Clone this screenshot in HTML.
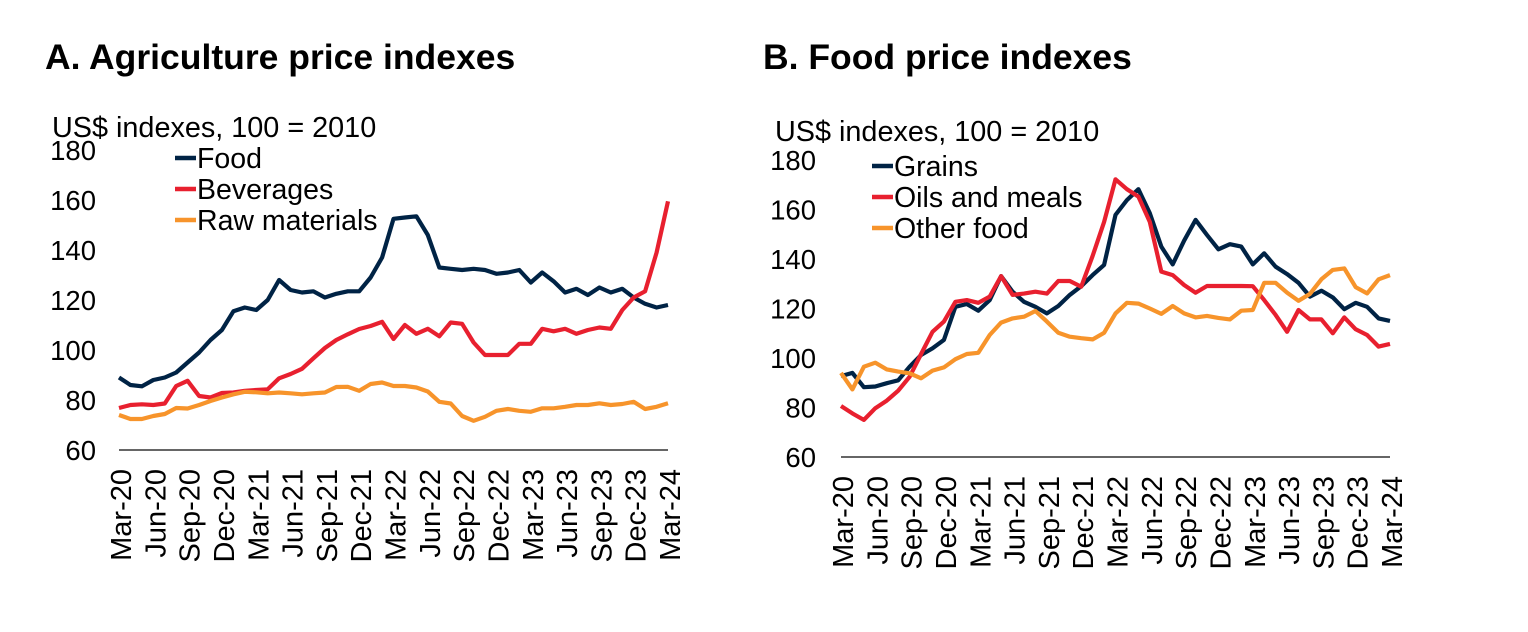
<!DOCTYPE html>
<html><head><meta charset="utf-8"><style>
html,body{margin:0;padding:0;background:#fff;width:1528px;height:632px;overflow:hidden}
svg{display:block;font-family:"Liberation Sans",Arial,sans-serif}
</style></head><body>
<svg id="c" width="1528" height="632" viewBox="0 0 1528 632"></svg>
<script>
const months = ["Mar-20","Apr-20","May-20","Jun-20","Jul-20","Aug-20","Sep-20","Oct-20","Nov-20","Dec-20","Jan-21","Feb-21","Mar-21","Apr-21","May-21","Jun-21","Jul-21","Aug-21","Sep-21","Oct-21","Nov-21","Dec-21","Jan-22","Feb-22","Mar-22","Apr-22","May-22","Jun-22","Jul-22","Aug-22","Sep-22","Oct-22","Nov-22","Dec-22","Jan-23","Feb-23","Mar-23","Apr-23","May-23","Jun-23","Jul-23","Aug-23","Sep-23","Oct-23","Nov-23","Dec-23","Jan-24","Feb-24","Mar-24"];
const yTicks = [60,80,100,120,140,160,180];
const foodA = [89,86,85.5,88,89,91,95,99,104,108,115.5,117,116,120,128,124,123,123.5,121,122.5,123.5,123.5,129,137,152.5,153,153.5,146,133,132.5,132,132.5,132,130.5,131,132,127,131,127.5,123,124.5,122,125,123,124.5,121,118.5,117,118];
const beverages = [76.8,78,78.3,78,78.6,85.6,87.7,81.6,81,82.8,83,83.7,84,84.3,88.7,90.4,92.5,96.7,100.8,104,106.3,108.4,109.6,111.3,104.4,110,106.5,108.5,105.5,111,110.5,103,98,98,98,102.5,102.5,108.5,107.5,108.5,106.5,108,109,108.5,116,121,123.5,139,159.5];
const rawMaterials = [74,72.4,72.4,73.6,74.4,76.8,76.6,78,79.6,81,82.3,83.3,83.1,82.7,83,82.7,82.3,82.7,83,85.2,85.3,83.7,86.4,87,85.6,85.6,85,83.4,79.3,78.6,73.6,71.7,73.3,75.7,76.4,75.7,75.3,76.7,76.7,77.3,78,78,78.7,78,78.4,79.3,76.4,77.3,78.7];
const grains = [92.7,94,88.2,88.5,89.8,91,96.5,101.2,103.9,107.3,120.7,121.8,119.1,123.4,133.1,126.8,122.7,120.7,118,121,125.5,129,133.5,137.6,157.8,163.8,168.2,158.5,145,137.8,147.4,155.8,149.7,143.9,146,145,137.8,142.3,136.9,133.9,130.4,124.8,127.2,124.5,119.7,122.3,120.7,116,115];
const oilsMeals = [80.6,77.6,75,79.7,82.8,86.8,92.4,101.6,110.6,114.7,122.7,123.4,122.3,124.8,133.1,125.5,126,126.8,126,131.1,131.1,128.8,141.2,155,172.2,168.2,165.2,155,134.9,133.5,129.5,126.4,129.1,129.1,129.1,129.1,129,123.4,117.4,110.6,119.4,115.6,115.6,110,116.4,111.6,109.3,104.6,105.7];
const otherFood = [94,87.3,96.5,98.1,95.4,94.5,93.8,91.8,94.9,96.2,99.5,101.6,102.1,109.3,114.3,116,116.7,119,114.7,110.2,108.6,108,107.5,110.2,118,122.3,122,120,117.8,121,118,116.4,117,116.2,115.6,119.1,119.4,130.4,130.4,126.4,123.1,125.9,131.8,135.6,136.2,128.6,126.1,131.8,133.5];

const NS="http://www.w3.org/2000/svg";
const svg=document.getElementById('c');
function el(tag,attrs,parent,text){const e=document.createElementNS(NS,tag);for(const k in attrs)e.setAttribute(k,attrs[k]);if(text!==undefined)e.textContent=text;(parent||svg).appendChild(e);return e;}
const COLORS={navy:"#002345",red:"#E8202F",orange:"#F7942B"};

function panel(cfg){
  const g=el('g',{});
  
  
  const x=i=>cfg.x0+(cfg.x1-cfg.x0)*i/(months.length-1);
  const y=v=>cfg.y60-(v-60)*(cfg.y60-cfg.y180)/120;
  const t=el('text',{x:cfg.titleX,y:cfg.titleY,'font-size':35.5,'font-weight':'bold',fill:'#000'},g,cfg.title);
  
  
  const s=el('text',{x:cfg.subX,y:cfg.subY,'font-size':28.8,fill:'#000'},g,'US$ indexes, 100 = 2010');
  
  
  yTicks.forEach(v=>{
    const tl=el('text',{x:cfg.tickX,y:y(v)+10,'font-size':27.5,'text-anchor':'end',fill:'#000'},g,String(v));
    
    
  });
  const ax=el('line',{x1:cfg.x0,x2:cfg.x1,y1:cfg.y60,y2:cfg.y60,stroke:'#333','stroke-width':1.5},g);
  
  
  months.forEach((m,i)=>{
    if(i%3!==0)return;
    const xx=x(i)+12, yy=cfg.y60+19;
    const tl=el('text',{x:xx,y:yy,'font-size':29,'text-anchor':'end',fill:'#000',transform:`rotate(-90 ${xx} ${yy})`},g,m);
    
    
  });
  cfg.series.forEach((sr,k)=>{
    const d=sr.data.map((v,i)=>(i?'L':'M')+x(i).toFixed(1)+' '+y(v).toFixed(1)).join(' ');
    const p=el('path',{d:d,fill:'none',stroke:sr.color,'stroke-width':4.2,'stroke-linejoin':'round'},g);
    
    
    const ly=cfg.legY+k*31;
    const lg=el('g',{},g);
    
    
    el('line',{x1:cfg.legX,x2:cfg.legX+21,y1:ly,y2:ly,stroke:sr.color,'stroke-width':4.5},lg);
    el('text',{x:cfg.legX+22,y:ly+10,'font-size':28.5,fill:'#000'},lg,sr.label);
  });
}
panel({name:'panel-a-agriculture',title:'A. Agriculture price indexes',titleX:45,titleY:69,subX:52,subY:137,tickX:96,
  x0:119,x1:668,y60:450,y180:150,legX:175,legY:158,
  series:[{id:'food',label:'Food',color:COLORS.navy,data:foodA},
          {id:'beverages',label:'Beverages',color:COLORS.red,data:beverages},
          {id:'raw-materials',label:'Raw materials',color:COLORS.orange,data:rawMaterials}]});
panel({name:'panel-b-food',title:'B. Food price indexes',titleX:763,titleY:69,subX:775,subY:141,tickX:816,
  x0:841,x1:1390,y60:457,y180:160,legX:872,legY:166,
  series:[{id:'grains',label:'Grains',color:COLORS.navy,data:grains},
          {id:'oils-and-meals',label:'Oils and meals',color:COLORS.red,data:oilsMeals},
          {id:'other-food',label:'Other food',color:COLORS.orange,data:otherFood}]});
</script>
</body></html>
